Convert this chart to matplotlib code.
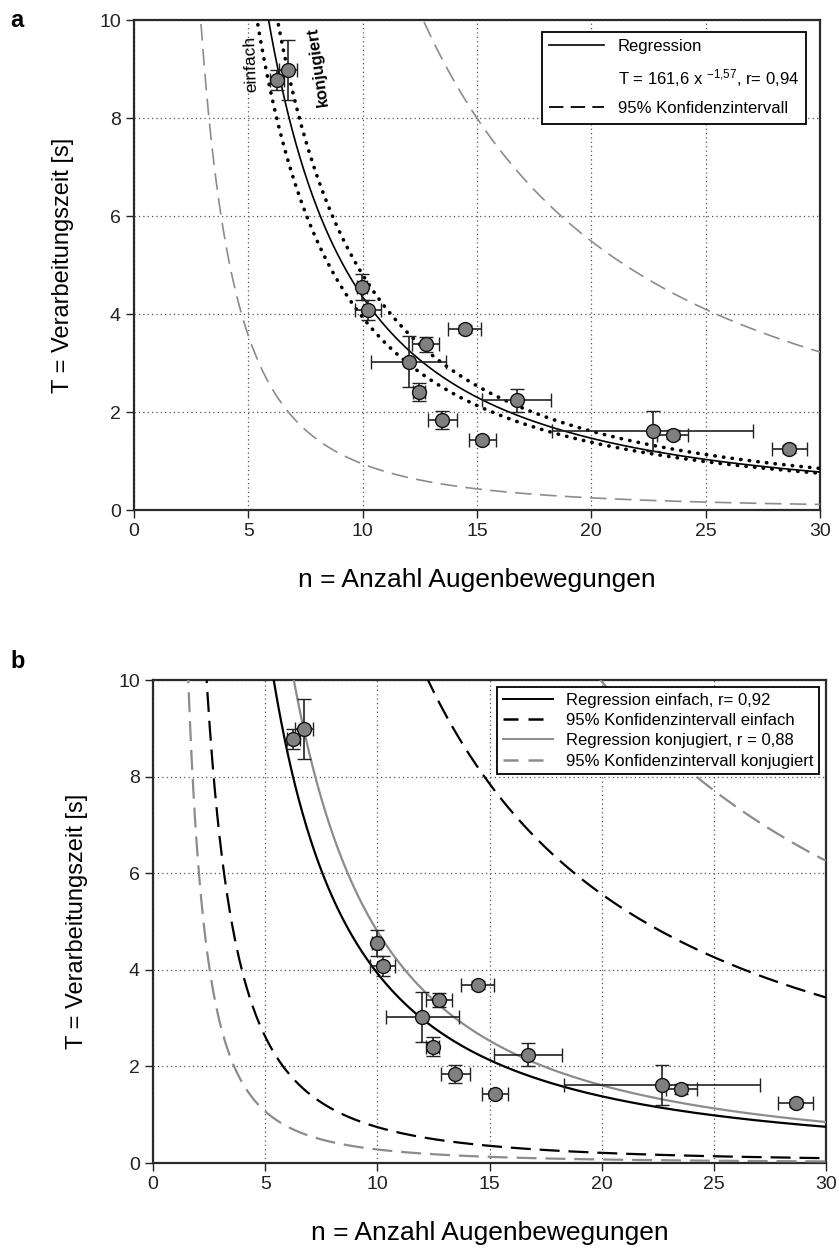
import numpy as np
import matplotlib
matplotlib.use("Agg")
import matplotlib.pyplot as plt
from matplotlib.lines import Line2D

plt.rcParams["font.family"] = ["Liberation Sans", "DejaVu Sans"]
plt.rcParams["mathtext.fontset"] = "custom"
plt.rcParams["mathtext.rm"] = "Liberation Sans"
plt.rcParams["mathtext.default"] = "regular"

# ------------- DATA -----------------
n_mean = [6.25, 6.73, 9.97, 10.23, 12.01, 12.46, 12.75, 13.48, 14.47, 15.23, 16.73, 22.68, 23.55, 28.65]
T_mean = [8.78, 8.98, 4.55, 4.08, 3.03, 2.41, 3.38, 1.84, 3.69, 1.42, 2.24, 1.61, 1.54, 1.24]
n_err = [0.3, 0.38, 0.2, 0.55, 1.63, 0.28, 0.58, 0.63, 0.72, 0.58, 1.52, 4.38, 0.68, 0.77]
T_err = [0.2, 0.62, 0.27, 0.2, 0.52, 0.19, 0.15, 0.18, 0.08, 0.08, 0.24, 0.41, 0.1, 0.08]

# power-law curves T = a * n^b  -> (a, b)
fit_all = (161.6, -1.57)
ci_all_upper = (277.7, -1.31)
ci_all_lower = (78.2, -1.92)
fit_einfach = (126.3, -1.507)
ci_einfach_upper = (200.3, -1.196)
ci_einfach_lower = (48.6, -1.815)
fit_konj = (180.8, -1.576)
ci_konj_upper = (312.6, -1.15)
ci_konj_lower = (23.9, -1.93)
# --------------------------------------

xs = np.linspace(0.5, 30, 800)


def power(p):
    return p[0] * xs ** p[1]


def style_axes(ax):
    ax.set_xlim(0, 30)
    ax.set_ylim(0, 10)
    ax.set_xticks([0, 5, 10, 15, 20, 25, 30])
    ax.set_yticks([0, 2, 4, 6, 8, 10])
    ax.grid(True, color="#555555", linestyle=(0, (1, 2.5)), linewidth=0.9)
    ax.tick_params(direction="out", length=6, width=1, labelsize=14, colors="#222222")
    for s in ax.spines.values():
        s.set_linewidth(1.6)
        s.set_color("#2a2a2a")


def draw_points(ax):
    ax.errorbar(n_mean, T_mean, xerr=n_err, yerr=T_err, fmt="o", ms=10,
                mfc="#808080", mec="#111111", mew=1.0, ecolor="#222222",
                elinewidth=1.2, capsize=5, capthick=1.2, zorder=6)


fig = plt.figure(figsize=(8.39, 12.51), dpi=100)

# ---------------- panel a ----------------
ax1 = fig.add_axes([0.1597, 0.5923, 0.8177, 0.3917])
style_axes(ax1)
ax1.plot(xs, power(ci_all_upper), color="#8c8c8c", lw=1.2, ls=(0, (10, 5)), zorder=3)
ax1.plot(xs, power(ci_all_lower), color="#8c8c8c", lw=1.2, ls=(0, (10, 5)), zorder=3)
ax1.plot(xs, power(fit_einfach), color="black", lw=2.6, ls=(0, (0.1, 2.3)),
         dash_capstyle="round", zorder=4)
ax1.plot(xs, power(fit_konj), color="black", lw=2.6, ls=(0, (0.1, 2.3)),
         dash_capstyle="round", zorder=4)
ax1.plot(xs, power(fit_all), color="black", lw=1.2, zorder=4)
draw_points(ax1)
ax1.text(5.1, 9.1, "einfach", rotation=92, fontsize=12.5, ha="center", va="center", zorder=7)
ax1.text(8.05, 9.05, "konjugiert", rotation=98, fontsize=12, fontweight="bold",
         ha="center", va="center", zorder=7)

handles_a = [
    Line2D([], [], color="black", lw=1.2),
    Line2D([], [], color="none"),
    Line2D([], [], color="black", lw=1.3, ls=(0, (8, 4))),
]
labels_a = ["Regression", "T = 161,6 x $^{-1{,}57}$, r= 0,94", "95% Konfidenzintervall"]
leg = ax1.legend(handles_a, labels_a, loc="upper right", bbox_to_anchor=(0.98, 0.976),
                 borderaxespad=0, fontsize=12, handlelength=3.3, fancybox=False,
                 framealpha=1, edgecolor="black", labelspacing=0.75, borderpad=0.45)
leg.get_frame().set_linewidth(1.3)
ax1.set_xlabel("n = Anzahl Augenbewegungen", fontsize=19, labelpad=20)
ax1.set_ylabel("T = Verarbeitungszeit [s]", fontsize=17, labelpad=18)

# ---------------- panel b ----------------
ax2 = fig.add_axes([0.1824, 0.0703, 0.8021, 0.3861])
style_axes(ax2)
ax2.plot(xs, power(ci_konj_upper), color="#8c8c8c", lw=1.6, ls=(0, (9, 4)), zorder=3)
ax2.plot(xs, power(ci_konj_lower), color="#8c8c8c", lw=1.6, ls=(0, (9, 4)), zorder=3)
ax2.plot(xs, power(ci_einfach_upper), color="black", lw=1.6, ls=(0, (9, 4)), zorder=3)
ax2.plot(xs, power(ci_einfach_lower), color="black", lw=1.6, ls=(0, (9, 4)), zorder=3)
ax2.plot(xs, power(fit_konj), color="#8c8c8c", lw=1.6, zorder=4)
ax2.plot(xs, power(fit_einfach), color="black", lw=1.6, zorder=4)
draw_points(ax2)

handles_b = [
    Line2D([], [], color="black", lw=1.4),
    Line2D([], [], color="black", lw=1.8, ls=(0, (6, 4))),
    Line2D([], [], color="#8c8c8c", lw=1.4),
    Line2D([], [], color="#8c8c8c", lw=1.8, ls=(0, (6, 4))),
]
labels_b = ["Regression einfach, r= 0,92", "95% Konfidenzintervall einfach",
            "Regression konjugiert, r = 0,88", "95% Konfidenzintervall konjugiert"]
leg2 = ax2.legend(handles_b, labels_b, loc="upper right", bbox_to_anchor=(0.99, 0.986),
                  borderaxespad=0, fontsize=12, handlelength=3.0, fancybox=False,
                  framealpha=1, edgecolor="black", labelspacing=0.32, borderpad=0.35)
leg2.get_frame().set_linewidth(1.3)
ax2.set_xlabel("n = Anzahl Augenbewegungen", fontsize=19, labelpad=20)
ax2.set_ylabel("T = Verarbeitungszeit [s]", fontsize=17, labelpad=22)

fig.text(0.012, 0.984, "a", fontsize=17, fontweight="bold", va="center")
fig.text(0.012, 0.471, "b", fontsize=17, fontweight="bold", va="center")

fig.savefig("out.png", dpi=100)
